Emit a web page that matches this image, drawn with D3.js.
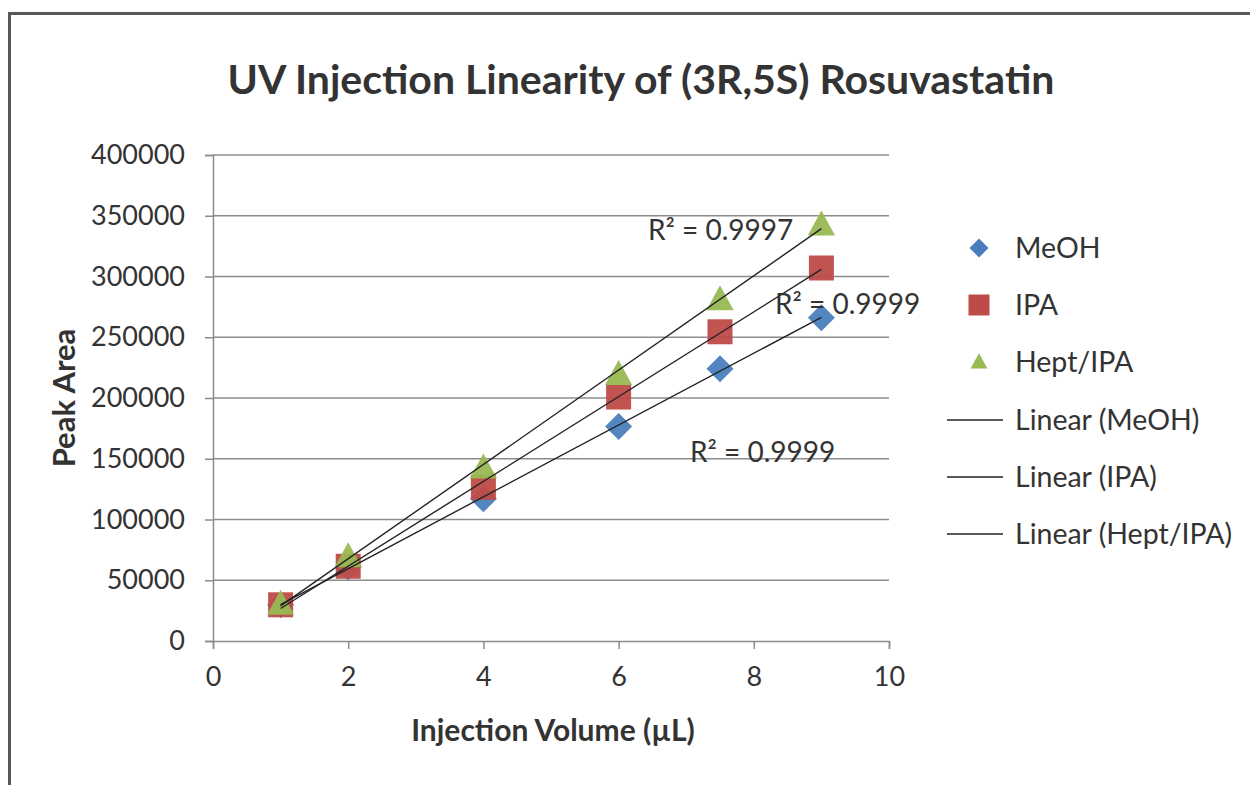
<!DOCTYPE html>
<html>
<head>
<meta charset="utf-8">
<script src="https://cdn.jsdelivr.net/npm/d3@7"></script>
<style>
  html, body { margin: 0; padding: 0; background: #fff; }
  svg { display: block; }
  text { font-family: Lato, "Open Sans", sans-serif; fill: #333; }
</style>
</head>
<body>
<svg id="chart" width="1250" height="785"></svg>
<script>
// ---- data ----
const injectionVolume = [1, 2, 4, 6, 7.5, 9];
const meohArea = [29800, 61000, 117000, 176500, 224000, 266000];
const ipaArea = [29800, 61500, 126500, 200800, 254500, 307000];
const heptIpaArea = [30500, 69500, 142500, 219500, 281000, 342500];
const seriesNames = ["MeOH", "IPA", "Hept/IPA"];
const seriesColors = ["#4A7EBB", "#BE4B48", "#98B954"];
const seriesShapes = ["diamond", "square", "triangle"];
const rSquaredLabels = ["R² = 0.9999", "R² = 0.9999", "R² = 0.9997"];
const xTicks = [0, 2, 4, 6, 8, 10];
const yTicks = [0, 50000, 100000, 150000, 200000, 250000, 300000, 350000, 400000];
const titleText = "UV Injection Linearity of (3R,5S) Rosuvastatin";
const xTitle = "Injection Volume (µL)";
const yTitle = "Peak Area";

const allSeries = [meohArea, ipaArea, heptIpaArea];

const svg = d3.select("#chart");

// frame
svg.append("path")
  .attr("d", "M9.5,800 V13.5 H1260")
  .attr("fill", "none").attr("stroke", "#595959").attr("stroke-width", 3);

const x = d3.scaleLinear().domain([0, 10]).range([213, 889]);
const y = d3.scaleLinear().domain([0, 400000]).range([641, 155]);

// gridlines
svg.append("g").selectAll("line").data(yTicks.filter(d => d > 0)).join("line")
  .attr("x1", x(0)).attr("x2", x(10))
  .attr("y1", d => y(d)).attr("y2", d => y(d))
  .attr("stroke", "#8c8c8c").attr("stroke-width", 1.5);

// y axis
const yAxis = d3.axisLeft(y).tickValues(yTicks).tickSize(8).tickPadding(20).tickFormat(d3.format("d"));
const gy = svg.append("g").attr("transform", `translate(${x(0)},0)`).call(yAxis);
gy.select(".domain").attr("stroke", "#8c8c8c").attr("stroke-width", 1.5);
gy.selectAll(".tick line").attr("stroke", "#8c8c8c").attr("stroke-width", 1.5);
gy.selectAll(".tick text").style("font-family", "Lato, sans-serif").style("font-size", "27px").attr("fill", "#404040");

// x axis
const xAxis = d3.axisBottom(x).tickValues(xTicks).tickSize(8).tickPadding(18).tickFormat(d3.format("d"));
const gx = svg.append("g").attr("transform", `translate(0,${y(0)})`).call(xAxis);
gx.select(".domain").attr("stroke", "#8c8c8c").attr("stroke-width", 1.5);
gx.selectAll(".tick line").attr("stroke", "#8c8c8c").attr("stroke-width", 1.5);
gx.selectAll(".tick text").style("font-family", "Lato, sans-serif").style("font-size", "27px").attr("fill", "#404040");

// markers
function shapePath(shape, s) {
  if (shape === "diamond") return `M0,${-s}L${s},0L0,${s}L${-s},0Z`;
  if (shape === "square") return `M${-s},${-s}H${s}V${s}H${-s}Z`;
  const h = s * 1.1;
  return `M0,${-h}L${s * 1.05},${h * 0.75}L${-s * 1.05},${h * 0.75}Z`;
}
const markerSize = [13.5, 12.5, 13];

allSeries.forEach((vals, i) => {
  svg.append("g").selectAll("path").data(vals).join("path")
    .attr("transform", (d, j) => `translate(${x(injectionVolume[j])},${y(d)})`)
    .attr("d", shapePath(seriesShapes[i], markerSize[i]))
    .attr("fill", seriesColors[i]).attr("opacity", 0.95);
});

// linear trendlines (least squares from data)
function fit(xs, ys) {
  const mx = d3.mean(xs), my = d3.mean(ys);
  const b = d3.sum(xs, (v, k) => (v - mx) * (ys[k] - my)) / d3.sum(xs, v => (v - mx) ** 2);
  return { a: my - b * mx, b };
}
const x0 = d3.min(injectionVolume), x1 = d3.max(injectionVolume);
allSeries.forEach((vals) => {
  const f = fit(injectionVolume, vals);
  const pts = [x0, x1].map(v => [x(v), y(f.a + f.b * v)]);
  svg.append("path").attr("d", d3.line()(pts))
    .attr("stroke", "#222").attr("stroke-width", 1.4).attr("fill", "none");
});

// R² labels
const rPos = [[690, 462], [775, 314], [648, 240]];
rSquaredLabels.forEach((t, i) => {
  svg.append("text").attr("x", rPos[i][0]).attr("y", rPos[i][1])
    .style("font-size", "28px").attr("fill", "#404040").text(t);
});

// title
svg.append("text").attr("x", 641).attr("y", 94).attr("text-anchor", "middle")
  .style("font-size", "41px").style("font-weight", "bold").attr("fill", "#222").text(titleText);

// axis titles
svg.append("text").attr("x", 553).attr("y", 741).attr("text-anchor", "middle")
  .style("font-size", "30px").style("font-weight", "bold").attr("fill", "#333").text(xTitle);
svg.append("text").attr("transform", "translate(75,398) rotate(-90)").attr("text-anchor", "middle")
  .style("font-size", "31px").style("font-weight", "bold").attr("fill", "#333").text(yTitle);

// legend
const legendY = [248, 305, 362, 420, 477, 534];
const legendMarker = [9.5, 10.5, 8];
const legendLabels = seriesNames.concat(seriesNames.map(n => `Linear (${n})`));
legendLabels.forEach((lab, i) => {
  const ly = legendY[i];
  if (i < 3) {
    svg.append("path").attr("transform", `translate(979,${ly})`)
      .attr("d", shapePath(seriesShapes[i], legendMarker[i]))
      .attr("fill", seriesColors[i]);
  } else {
    svg.append("line").attr("x1", 947).attr("x2", 1003).attr("y1", ly).attr("y2", ly)
      .attr("stroke", "#222").attr("stroke-width", 1.4);
  }
  svg.append("text").attr("x", 1015).attr("y", ly + 10)
    .style("font-size", "28.5px").attr("fill", "#404040").text(lab);
});
</script>
</body>
</html>
